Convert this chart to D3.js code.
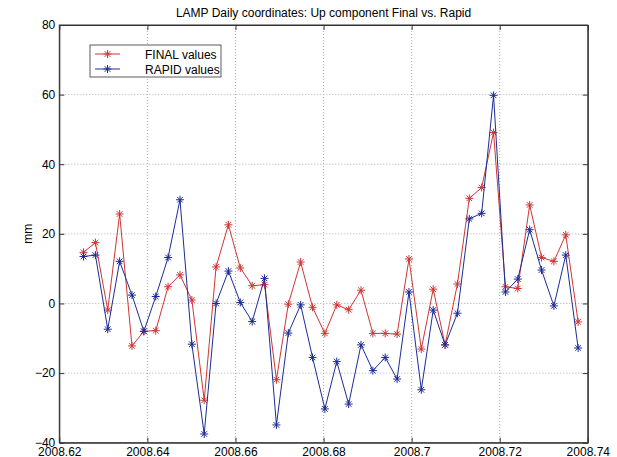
<!DOCTYPE html>
<html><head><meta charset="utf-8">
<script src="https://cdn.jsdelivr.net/npm/d3@7"></script>
<style>body{margin:0;background:#fff;} text{font-family:"Liberation Sans",Arial,sans-serif;}</style>
</head><body>
<svg id="c" width="617" height="457"></svg>
<script>
const dates = [2008.6255,2008.6282,2008.6310,2008.6337,2008.6365,2008.6392,2008.6419,2008.6447,2008.6474,2008.6501,
  2008.6529,2008.6556,2008.6584,2008.6611,2008.6638,2008.6666,2008.6693,2008.6720,2008.6748,2008.6775,
  2008.6803,2008.6830,2008.6857,2008.6885,2008.6912,2008.6940,2008.6967,2008.6994,2008.7022,2008.7049,
  2008.7076,2008.7104,2008.7131,2008.7159,2008.7186,2008.7213,2008.7241,2008.7268,2008.7295,2008.7323,
  2008.7350,2008.7378];
const finalValues = [14.7,17.5,-1.9,25.7,-12.2,-8.0,-7.8,4.8,8.2,1.0,-27.8,10.5,22.6,10.2,5.1,5.4,-21.9,-0.2,11.9,-1.1,
  -8.6,-0.4,-1.8,3.8,-8.6,-8.6,-8.8,12.8,-13.1,4.1,-11.9,5.6,30.2,33.3,49.1,4.8,4.3,28.3,13.2,12.1,19.7,-5.3];
const rapidValues = [13.5,13.9,-7.4,12.1,2.4,-8.0,2.0,13.2,29.8,-11.7,-37.5,0.0,9.3,0.3,-5.2,7.2,-34.9,-8.5,-0.4,-15.5,
  -30.3,-16.7,-28.9,-11.9,-19.3,-15.5,-21.7,3.3,-24.8,-1.9,-11.9,-2.8,24.3,25.9,59.8,3.3,7.0,21.2,9.6,-0.7,13.9,-12.8];
const xTicks = [2008.62,2008.64,2008.66,2008.68,2008.70,2008.72,2008.74];
const xTickLabels = ["2008.62","2008.64","2008.66","2008.68","2008.7","2008.72","2008.74"];
const yTicks = [-40,-20,0,20,40,60,80];
const seriesNames = ["FINAL values","RAPID values"];

const L=59.3,R=587.8,T=25,B=442.7;
const svg=d3.select("#c");
const x=d3.scaleLinear().domain([2008.62,2008.74]).range([L,R]);
const y=d3.scaleLinear().domain([-40,80]).range([B,T]);

// grid
const g=svg.append("g");
g.selectAll(".gx").data(xTicks.slice(1,-1)).join("line")
 .attr("x1",d=>x(d)).attr("x2",d=>x(d)).attr("y1",T).attr("y2",B)
 .attr("stroke","#999").attr("stroke-width",0.8).attr("stroke-dasharray","1,2");
g.selectAll(".gy").data(yTicks.slice(1,-1)).join("line")
 .attr("y1",d=>y(d)).attr("y2",d=>y(d)).attr("x1",L).attr("x2",R)
 .attr("stroke","#999").attr("stroke-width",0.8).attr("stroke-dasharray","1,2");

// axes
const ax=d3.axisBottom(x).tickValues(xTicks).tickFormat((d,i)=>xTickLabels[i]).tickSizeInner(-5).tickSizeOuter(0).tickPadding(5);
const ay=d3.axisLeft(y).tickValues(yTicks).tickSizeInner(-5).tickSizeOuter(0).tickPadding(4);
svg.append("g").attr("transform",`translate(0,${B})`).call(ax);
svg.append("g").attr("transform",`translate(${L},0)`).call(ay);
svg.append("g").attr("transform",`translate(0,${T})`).call(d3.axisTop(x).tickValues(xTicks).tickSizeInner(-5).tickSizeOuter(0).tickFormat(""));
svg.append("g").attr("transform",`translate(${R},0)`).call(d3.axisRight(y).tickValues(yTicks).tickSizeInner(-5).tickSizeOuter(0).tickFormat(""));
svg.selectAll(".domain").attr("stroke","#333");
svg.selectAll(".tick line").attr("stroke","#333");
svg.selectAll(".tick text").attr("font-size",12).attr("fill","#000").attr("font-family","Liberation Sans, Arial, sans-serif");
svg.append("rect").attr("x",L).attr("y",T).attr("width",R-L).attr("height",B-T).attr("fill","none").attr("stroke","#333");

const star=(s)=>{const a=s*0.7;return `M${-s},0L${s},0M0,${-s}L0,${s}M${-a},${-a}L${a},${a}M${-a},${a}L${a},${-a}`;};
const series=[{v:finalValues,c:"#d03535"},{v:rapidValues,c:"#1c2c98"}];
const line=d3.line().x((d,i)=>x(dates[i])).y(d=>y(d));
series.forEach(s=>{
  svg.append("path").attr("d",line(s.v)).attr("fill","none").attr("stroke",s.c).attr("stroke-width",1);
  svg.append("g").selectAll("path").data(s.v).join("path")
   .attr("transform",(d,i)=>`translate(${x(dates[i])},${y(d)})`).attr("d",star(4)).attr("stroke",s.c).attr("stroke-width",1).attr("fill","none");
});

// title and label
svg.append("text").attr("x",(L+R)/2).attr("y",17).attr("text-anchor","middle").attr("font-size",12).text("LAMP Daily coordinates: Up component Final vs. Rapid");
svg.append("text").attr("transform",`translate(32,${(T+B)/2}) rotate(-90)`).attr("text-anchor","middle").attr("font-size",12).text("mm");

// legend
const lg=svg.append("g");
lg.append("rect").attr("x",90).attr("y",45).attr("width",131).attr("height",32).attr("fill","#fff").attr("stroke","#333").attr("stroke-width",0.8);
series.forEach((s,i)=>{
  const yy=54+i*15;
  lg.append("line").attr("x1",95).attr("x2",120).attr("y1",yy).attr("y2",yy).attr("stroke",s.c);
  lg.append("path").attr("transform",`translate(107.5,${yy})`).attr("d",star(4)).attr("stroke",s.c).attr("fill","none");
  lg.append("text").attr("x",145).attr("y",yy+4.5).attr("font-size",12).text(seriesNames[i]);
});
</script>
</body></html>
